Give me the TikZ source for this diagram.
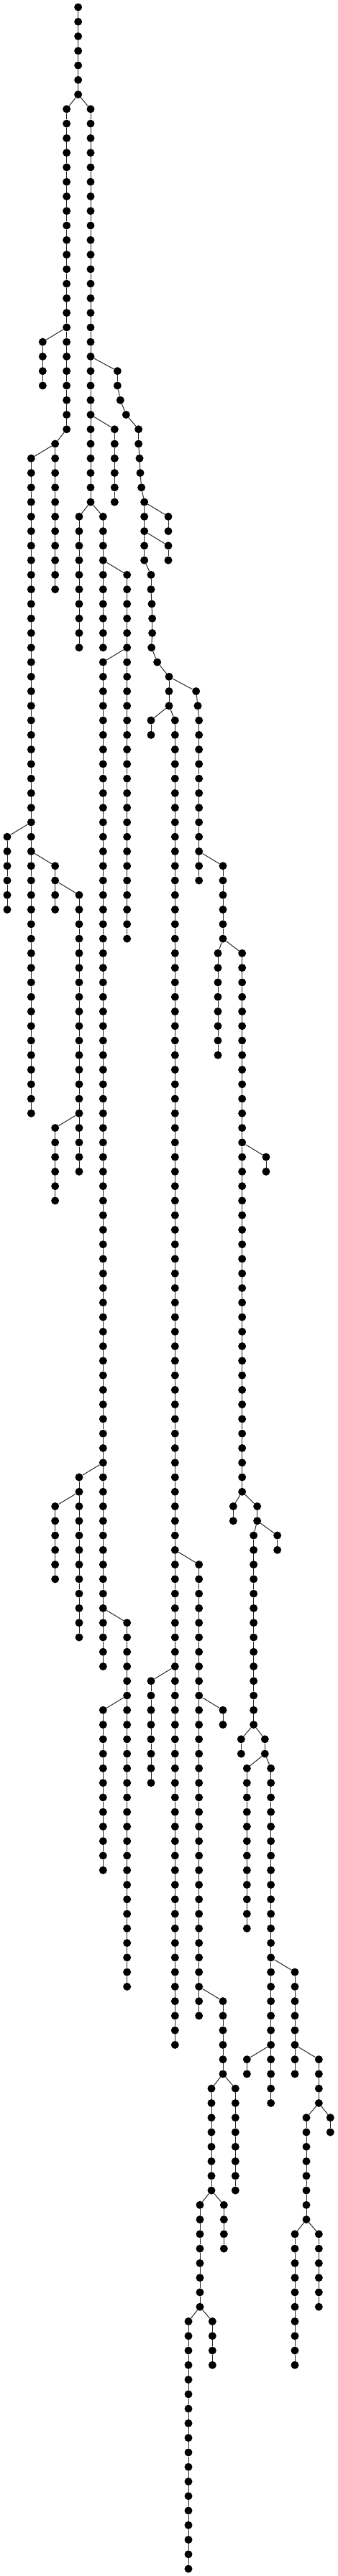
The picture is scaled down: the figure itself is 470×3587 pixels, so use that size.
\documentclass[tikz,border=0pt]{standalone}
\usepackage{tikz}
\tikzset{
  bead/.style={circle,fill=black,draw=none,inner sep=0pt,minimum size=11pt},
  conn/.style={line width=1pt,black!85}
}
\newcommand\nd[3]{\node[bead] (#1) at ({#2/3},{-10-20.267*#3}) {};}
\newcommand\lnk[3]{%
  \foreach \k in {#2,...,#3}{\ifnum\k>#2\relax \pgfmathtruncatemacro\kp{\k-1}\draw[conn] (#1-\kp) -- (#1-\k);\fi}%
}
\newcommand\chn[4]{%
  \foreach \k in {#3,...,#4}{\node[bead] (#1-\k) at ({#2/3},{-10-20.267*\k}) {};}%
  \lnk{#1}{#3}{#4}%
}
\newcommand\br[2]{\draw[conn] (#1) -- (#2);}
\begin{document}
\begin{tikzpicture}[x=1pt,y=1pt]
\path[use as bounding box] (0,0) rectangle (470,-3587);
% root and first split
\chn{R}{326}{0}{6}
\chn{A}{278}{7}{29}
\nd{A-30}{230}{30}
\br{A-29}{A-30}
\chn{B}{378}{7}{34}
\br{R-6}{A-7}
\br{R-6}{B-7}
\chn{E}{178}{23}{26}
\br{A-22}{E-23}
% slanted chain F
\foreach \k/\xx in {25/490,26/490,27/502,28/526,29/578,30/578,31/582,32/585,33/590,34/602,35/602,36/602,37/602,38/602,39/630,40/630,41/633,42/635,43/635,44/632,45/656,46/705,47/705,48/705}{\node[bead] (F-\k) at ({\xx/3},{-10-20.267*\k}) {};}
\lnk{F}{25}{48}
\br{B-24}{F-25}
\chn{G}{478}{29}{34}
\br{B-28}{G-29}
\chn{C}{130}{31}{76}
\br{A-30}{C-31}
\chn{D}{230}{31}{40}
\br{A-30}{D-31}
\chn{H}{330}{35}{44}
\br{B-34}{H-35}
\chn{I}{430}{35}{44}
\br{B-34}{I-35}
\chn{J}{530}{39}{64}
\br{I-38}{J-39}
\chn{K}{430}{45}{114}
\br{J-44}{K-45}
\chn{L}{330}{101}{112}
\br{K-100}{L-101}
\chn{M}{230}{103}{108}
\br{L-102}{M-103}
\chn{N}{530}{111}{136}
\br{K-110}{N-111}
\chn{O}{430}{117}{128}
\br{N-116}{O-117}
\chn{P}{30}{57}{62}
\br{C-56}{P-57}
\chn{Q}{230}{59}{62}
\br{C-58}{Q-59}
\chn{S}{330}{61}{80}
\br{Q-60}{S-61}
\chn{T}{230}{77}{82}
\br{S-76}{T-77}
\chn{Fa}{702}{35}{36}
\br{F-34}{Fa-35}
\chn{Fb}{702}{37}{38}
\br{F-36}{Fb-37}
\chn{U}{630}{49}{50}
\br{F-48}{U-49}
\chn{V}{730}{49}{140}
\br{F-48}{V-49}
\chn{W}{830}{107}{138}
\br{V-106}{W-107}
\chn{X}{630}{115}{122}
\br{V-114}{X-115}
\chn{Y}{930}{117}{118}
\br{W-116}{Y-117}
\chn{Z}{930}{137}{142}
\br{W-136}{Z-137}
\chn{AA}{882}{143}{150}
\br{Z-142}{AA-143}
\chn{AB}{982}{143}{150}
\br{Z-142}{AB-143}
\chn{AC}{834}{151}{158}
\br{AA-150}{AC-151}
\chn{AD}{934}{151}{154}
\br{AA-150}{AD-151}
\chn{AE}{786}{159}{176}
\br{AC-158}{AE-159}
\chn{AF}{886}{159}{162}
\br{AC-158}{AF-159}
% right-hand part
\nd{GG-47}{818}{47}
\nd{GG-48}{825}{48}
\foreach \k in {49,...,60}{\node[bead] (GG-\k) at ({830/3},{-10-20.267*\k}) {};}
\lnk{GG}{47}{60}
\br{F-46}{GG-47}
\chn{HH}{930}{59}{64}
\br{GG-58}{HH-59}
\chn{II}{909}{65}{72}
\br{HH-64}{II-65}
\chn{JJ}{1010}{65}{102}
\br{HH-64}{JJ-65}
\chn{KK}{1110}{79}{80}
\br{JJ-78}{KK-79}
\chn{LL}{973}{103}{104}
\br{JJ-102}{LL-103}
\chn{MM}{1073}{103}{104}
\br{JJ-102}{MM-103}
\chn{NN}{1157}{105}{106}
\br{MM-104}{NN-105}
\chn{OO}{1058}{105}{118}
\br{MM-104}{OO-105}
\chn{PP}{1006}{119}{120}
\br{OO-118}{PP-119}
\chn{QQ}{1105}{119}{120}
\br{OO-118}{QQ-119}
\chn{RR}{1030}{121}{132}
\br{QQ-120}{RR-121}
\chn{SS}{1130}{121}{144}
\br{QQ-120}{SS-121}
\chn{TT}{1230}{135}{142}
\br{SS-134}{TT-135}
\chn{UU}{1030}{141}{142}
\br{SS-140}{UU-141}
\chn{VV}{1330}{141}{144}
\br{TT-140}{VV-141}
\chn{WW}{1278}{145}{152}
\br{VV-144}{WW-145}
\chn{XX}{1378}{145}{146}
\br{VV-144}{XX-145}
\chn{YY}{1230}{153}{162}
\br{WW-152}{YY-153}
\chn{ZZ}{1330}{153}{158}
\br{WW-152}{ZZ-153}
\end{tikzpicture}
\end{document}
